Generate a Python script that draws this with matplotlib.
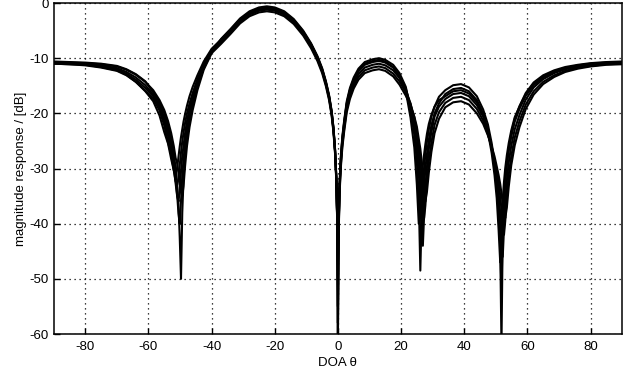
import matplotlib
matplotlib.use("Agg")
import matplotlib.pyplot as plt

plt.rcParams.update({"font.family": ["Liberation Sans", "DejaVu Sans"], "font.size": 9.5,
                     "axes.unicode_minus": False})

# DOA grid [deg], shared by all curves
doa = [-90, -85, -80, -75, -70, -67, -64, -61, -58.5, -56.5, -55, -53.8, -52.8, -52,
       -51.4, -50.9, -50.5, -50.1, -49.7, -49.3, -48.9, -48.4, -47.8, -47, -46, -44.5,
       -42.5, -40,
       -37, -34, -31, -28, -25, -22.5, -20, -17, -14, -11, -8.5, -6.5, -5, -3.8, -2.8,
       -2, -1.4, -0.9, -0.5, -0.2, 0, 0.2, 0.5, 0.9, 1.4, 2, 2.8, 3.8, 5, 6.5, 8.5,
       11, 13, 15, 17.5, 19.5, 21.5, 23, 24.2, 25, 25.6, 26.1, 26.5, 26.9, 27.3, 27.7,
       28.2, 28.8, 29.6, 30.6, 32,
       34, 36.5, 39, 41.5, 44, 46, 47.5, 48.7, 49.6, 50.3, 50.9, 51.4, 51.8, 52.2, 52.6,
       53.0, 53.5, 54.1, 54.9, 56, 57.5,
       59.5, 62, 65, 68.5, 72, 76, 80, 85, 90]

# magnitude responses [dB], one list per trial
resp1 = [-10.6, -10.7, -10.8, -11.0, -11.4, -12.0, -12.9, -14.2, -16.2, -18.0, -20.0, -22.2,
         -24.7, -27.3, -29.9, -32.9, -36.4, -42.5, -50.0, -38.0, -31.9, -27.7, -24.4, -21.4,
         -18.4, -15.2, -11.8, -8.9,
         -6.5, -4.7, -2.8, -1.5, -0.8, -0.6, -0.8, -1.5, -2.9, -5.0, -7.3, -9.6, -11.8, -14.2,
         -16.7, -19.5, -22.6, -26.5, -31.6, -39.6, -62.0, -41.0, -33.0, -28.0, -24.2, -21.2,
         -17.8, -15.4, -13.5, -11.9, -10.7,
         -10.2, -10.0, -10.3, -11.2, -12.7, -15.2, -19.3, -23.9, -28.7, -35.3, -48.5, -39.0,
         -33.4, -29.9, -27.4, -25.1, -22.9, -20.6, -18.8, -17.0,
         -15.8, -14.9, -14.7, -15.3, -16.9, -19.3, -22.0, -25.4, -28.8, -32.5, -36.9, -44.0,
         -62.0, -41.5, -35.4, -31.9, -28.9, -26.3, -23.7, -21.0, -18.7,
         -16.3, -14.4, -13.1, -12.2, -11.6, -11.2, -10.9, -10.7, -10.6]
resp2 = [-10.9, -11.0, -11.1, -11.5, -12.0, -12.8, -13.9, -15.4, -16.9, -18.9, -21.4, -24.1,
         -27.3, -29.8, -32.7, -35.1, -36.0, -33.9, -30.5, -27.7, -25.9, -23.6, -21.4, -19.1,
         -16.8, -14.2, -11.3, -8.6,
         -6.7, -4.9, -3.0, -1.7, -1.0, -0.8, -1.0, -1.7, -3.1, -5.2, -7.5, -9.8, -12.0, -14.4,
         -16.9, -19.7, -22.8, -26.7, -31.8, -39.8, -55.0, -41.5, -33.5, -28.5, -24.7, -21.7,
         -18.3, -15.9, -14.0, -12.4, -11.2,
         -10.7, -10.5, -10.8, -11.7, -13.2, -15.5, -18.8, -22.8, -26.5, -30.5, -36.2, -41.0,
         -37.5, -33.1, -30.0, -27.4, -24.8, -22.2, -20.0, -18.2,
         -16.5, -15.6, -15.4, -16.0, -17.6, -20.0, -23.4, -27.2, -31.2, -35.4, -41.2, -47.0,
         -40.8, -35.6, -32.4, -29.9, -27.6, -25.4, -23.1, -20.7, -18.8,
         -16.5, -14.6, -13.3, -12.4, -11.8, -11.3, -11.0, -10.8, -10.7]
resp3 = [-10.8, -10.9, -11.0, -11.3, -11.8, -12.5, -13.5, -14.9, -16.6, -18.5, -20.7, -23.1,
         -25.9, -28.9, -31.9, -34.9, -38.1, -40.0, -35.9, -31.3, -28.4, -25.4, -22.8, -20.2,
         -17.6, -14.8, -11.6, -8.8,
         -6.9, -5.1, -3.2, -1.9, -1.2, -1.0, -1.2, -1.9, -3.3, -5.4, -7.7, -10.0, -12.2, -14.6,
         -17.1, -19.9, -23.0, -26.9, -32.0, -40.0, -50.0, -42.0, -34.0, -29.0, -25.2, -22.2,
         -18.8, -16.4, -14.5, -12.9, -11.7,
         -11.2, -11.0, -11.3, -12.2, -13.6, -15.8, -18.2, -21.4, -24.4, -27.7, -31.6, -37.0,
         -44.0, -38.5, -33.5, -29.7, -26.4, -23.4, -20.6, -18.8,
         -17.4, -16.5, -16.3, -16.9, -18.5, -20.6, -23.2, -26.1, -28.7, -31.4, -34.4, -38.1,
         -42.5, -46.0, -40.9, -36.0, -32.2, -28.9, -25.9, -22.9, -20.3,
         -17.5, -15.3, -13.8, -12.7, -12.0, -11.5, -11.2, -11.0, -10.9]
resp4 = [-11.0, -11.1, -11.3, -11.7, -12.3, -13.1, -14.3, -15.9, -17.3, -19.5, -22.2, -25.3,
         -27.5, -30.3, -32.3, -33.0, -31.8, -29.4, -27.1, -25.1, -23.5, -21.7, -20.0, -18.2,
         -16.3, -13.8, -11.1, -8.5,
         -7.1, -5.3, -3.4, -2.1, -1.4, -1.2, -1.4, -2.1, -3.5, -5.6, -7.9, -10.2, -12.4, -14.8,
         -17.3, -20.1, -23.2, -27.1, -32.2, -40.2, -58.0, -42.5, -34.5, -29.5, -25.7, -22.7,
         -19.3, -16.9, -15.0, -13.4, -12.2,
         -11.7, -11.5, -11.8, -12.8, -14.2, -16.2, -18.3, -20.7, -23.3, -25.9, -28.5, -31.5,
         -35.7, -39.0, -36.7, -32.3, -28.6, -25.3, -22.1, -19.8,
         -18.1, -17.2, -17.0, -17.6, -19.2, -21.3, -23.8, -26.2, -28.5, -30.6, -32.4, -34.9,
         -37.5, -40.4, -42.0, -39.5, -35.0, -31.1, -27.8, -24.4, -21.4,
         -18.4, -16.0, -14.3, -13.1, -12.3, -11.7, -11.4, -11.1, -11.0]
resp5 = [-10.7, -10.8, -10.9, -11.1, -11.5, -12.1, -13.0, -14.3, -15.8, -17.6, -19.4, -21.4,
         -23.6, -25.9, -28.1, -29.1, -30.8, -32.6, -34.3, -35.0, -33.2, -29.5, -25.9, -22.5,
         -19.4, -15.8, -12.1, -9.1,
         -7.4, -5.6, -3.7, -2.4, -1.7, -1.5, -1.7, -2.4, -3.8, -5.9, -8.2, -10.5, -12.7, -15.1,
         -17.6, -20.4, -23.5, -27.4, -32.5, -40.5, -47.0, -43.0, -35.0, -30.0, -26.2, -23.2,
         -19.8, -17.4, -15.5, -13.9, -12.7,
         -12.2, -12.0, -12.3, -13.3, -14.8, -16.8, -18.6, -20.6, -22.4, -24.6, -26.4, -28.5,
         -31.2, -34.2, -36.0, -34.2, -30.7, -27.0, -23.6, -21.0,
         -18.9, -18.0, -17.8, -18.4, -20.0, -21.9, -24.0, -26.0, -27.8, -29.6, -31.2, -32.8,
         -34.5, -36.4, -38.2, -39.0, -37.1, -33.3, -29.4, -25.8, -22.5,
         -19.2, -16.6, -14.7, -13.4, -12.5, -11.9, -11.5, -11.2, -11.1]
resp6 = [-11.0, -11.1, -11.2, -11.6, -12.2, -13.0, -14.3, -16.0, -17.8, -20.4, -23.4, -25.5,
         -28.3, -30.3, -31.0, -29.8, -27.9, -26.0, -24.3, -22.9, -21.5, -20.1, -18.6, -16.9,
         -15.2, -13.1, -10.6, -8.3,
         -6.6, -4.9, -3.0, -1.8, -1.0, -0.8, -1.0, -1.7, -3.1, -5.2, -7.5, -9.8, -12.0, -14.4,
         -16.9, -19.7, -22.8, -26.7, -31.8, -39.8, -60.0, -41.3, -33.3, -28.3, -24.5, -21.5,
         -18.1, -15.7, -13.8, -12.2, -11.0,
         -10.5, -10.3, -10.6, -11.6, -13.3, -16.0, -20.8, -26.2, -32.9, -40.0, -35.9, -32.2,
         -29.4, -27.4, -25.6, -23.7, -21.9, -20.3, -18.8, -17.6,
         -16.9, -16.0, -15.8, -16.4, -18.0, -20.3, -23.0, -26.3, -29.5, -32.9, -37.2, -43.8,
         -52.0, -41.6, -35.9, -32.4, -29.4, -26.8, -24.2, -21.5, -19.2,
         -16.8, -14.9, -13.5, -12.5, -11.9, -11.4, -11.1, -10.9, -10.8]

xticks = [-80, -60, -40, -20, 0, 20, 40, 60, 80]
yticks = [0, -10, -20, -30, -40, -50, -60]

fig = plt.figure(figsize=(6.4, 3.77), dpi=100)
ax = fig.add_axes([0.084, 0.114, 0.888, 0.878])
for r in [resp1, resp2, resp3, resp4, resp5, resp6]:
    ax.plot(doa, r, color="black", linewidth=1.5)

ax.set_xlim(-90, 90)
ax.set_ylim(-60, 0)
ax.set_xticks(xticks)
ax.set_yticks(yticks)
ax.grid(True, color="black", linestyle=(0, (1, 3)), linewidth=0.9)
ax.tick_params(direction="in", length=4, width=1, colors="black")
ax.tick_params(axis="x", pad=5)
for s in ax.spines.values():
    s.set_linewidth(1.1)
ax.set_xlabel("DOA θ", labelpad=3)
ax.set_ylabel("magnitude response / [dB]", labelpad=2)

fig.savefig("out.png", dpi=100)
